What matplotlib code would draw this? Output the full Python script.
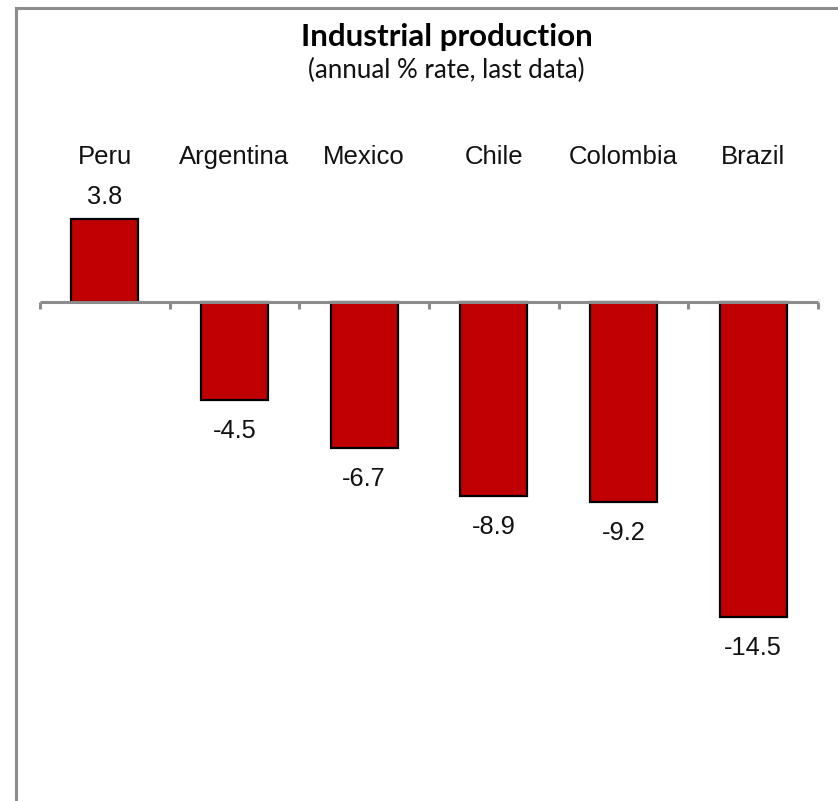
import matplotlib
matplotlib.use("Agg")
import matplotlib.pyplot as plt
from matplotlib.lines import Line2D
from matplotlib.transforms import blended_transform_factory

countries = ["Peru", "Argentina", "Mexico", "Chile", "Colombia", "Brazil"]
growth = [3.8, -4.5, -6.7, -8.9, -9.2, -14.5]

title = "Industrial production"
subtitle = "(annual % rate, last data)"

W, H = 838, 801
DPI = 100
fig = plt.figure(figsize=(W / DPI, H / DPI), dpi=DPI)
fig.patch.set_facecolor("white")


def fx(px):
    return px / W


def fy(py):
    return 1 - py / H


# outer frame (top and left edges)
frame_kw = dict(color="#8c8c8c", linewidth=2.2, transform=fig.transFigure)
fig.add_artist(Line2D([fx(16), fx(838)], [fy(7.5), fy(7.5)], **frame_kw))
fig.add_artist(Line2D([fx(16), fx(16)], [fy(7.5), fy(801)], **frame_kw))

# plot area: zero line at y=302 px, ~21.75 px per unit
ax_top, ax_bot = 130, 770
zero_px, ppu = 302, 21.75
ax = fig.add_axes([fx(40), fy(ax_bot), fx(818) - fx(40), (ax_bot - ax_top) / H])
ax.set_xlim(-0.5, len(countries) - 0.5)
ax.set_ylim(-(ax_bot - zero_px) / ppu, (zero_px - ax_top) / ppu)
ax.axis("off")

x = list(range(len(countries)))
ax.bar(x, growth, width=0.515, color="#c00000", edgecolor="black", linewidth=1.6, zorder=2)

# horizontal category axis at zero with downward ticks between categories
ax.plot([-0.5, len(countries) - 0.5], [0, 0], color="#8c8c8c", lw=2.2, zorder=3,
        solid_capstyle="butt", clip_on=False)
tick_len = 7 / ppu
for b in range(len(countries) + 1):
    xb = b - 0.5
    ax.plot([xb, xb], [0, -tick_len], color="#8c8c8c", lw=2.2, zorder=3,
            solid_capstyle="butt", clip_on=False)

# value labels
for xi, v in zip(x, growth):
    off = 22 if v >= 0 else -31
    ax.annotate(f"{v:.1f}", (xi, v), xytext=(0, off), textcoords="offset pixels",
                ha="center", va="center", fontsize=18.3, family="Liberation Sans",
                color="#111111")

# category names above the plot
trans = blended_transform_factory(ax.transData, fig.transFigure)
for xi, name in zip(x, countries):
    ax.text(xi, fy(157), name, transform=trans, ha="center", va="center",
            fontsize=18.5, family="Liberation Sans", color="#111111")

fig.text(fx(447), fy(46), title, ha="center", va="baseline", fontsize=22.6,
         fontweight="bold", family=["Lato", "DejaVu Sans"], color="black")
fig.text(fx(446), fy(78), subtitle, ha="center", va="baseline", fontsize=18.6,
         family=["Lato", "DejaVu Sans"], color="#111111")

fig.savefig("out.png", dpi=DPI, facecolor="white")
